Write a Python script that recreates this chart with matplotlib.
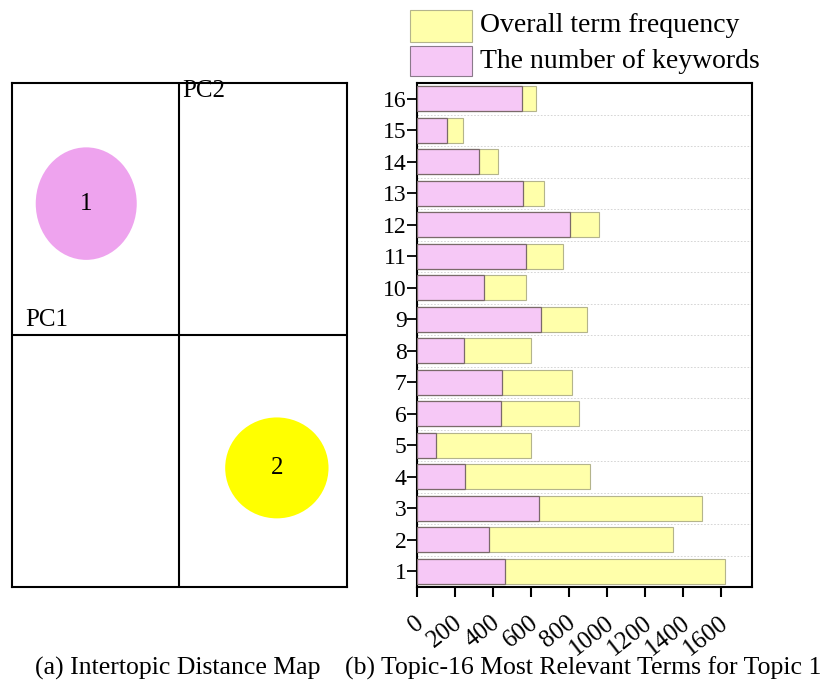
import matplotlib
matplotlib.use("Agg")
import matplotlib.pyplot as plt
import matplotlib.transforms as mtransforms
from matplotlib.patches import Ellipse, Rectangle
import numpy as np

plt.rcParams['font.family'] = ['Liberation Serif', 'DejaVu Serif']

# ---- data ----
topics = [1, 2]
topic_x = [-0.555, 0.583]
topic_y = [0.522, -0.528]
topic_w = [0.603, 0.617]
topic_h = [0.447, 0.401]
topic_colors = ['#EEA3EE', '#FFFF00']

terms = list(range(1, 17))
overall_freq = [1618, 1345, 1497, 910, 598, 850, 813, 601, 894, 571, 768, 959, 666, 424, 244, 626]
keyword_count = [461, 377, 640, 252, 98, 440, 449, 245, 652, 350, 571, 803, 559, 324, 156, 552]
xticks = [0, 200, 400, 600, 800, 1000, 1200, 1400, 1600]
series_labels = ['Overall term frequency', 'The number of keywords']

W, H = 826, 682
fig = plt.figure(figsize=(W / 100, H / 100), dpi=100)
FS = 18
YEL, YEL_E = '#FFFFAA', '#b4b48c'
PNK, PNK_E = '#F6C8F6', '#7a6a6a'

# ---- (a) intertopic distance map ----
ax1 = fig.add_axes([11.7 / W, 1 - 586.7 / H, (346.7 - 11.7) / W, (586.7 - 83.3) / H])
ax1.set_xlim(-1, 1)
ax1.set_ylim(-1, 1)
ax1.set_xticks([])
ax1.set_yticks([])
for s in ax1.spines.values():
    s.set_linewidth(1.5)
ax1.axhline(0, color='black', lw=1.5)
ax1.axvline(0, color='black', lw=1.5)
for t, x, y, w, h, c in zip(topics, topic_x, topic_y, topic_w, topic_h, topic_colors):
    ax1.add_patch(Ellipse((x, y), w, h, facecolor=c, edgecolor='none'))
    ax1.text(x, y, str(t), ha='center', va='center', fontsize=FS)
ax1.text(0.02, 0.97, 'PC2', ha='left', va='center', fontsize=FS)
ax1.text(-0.92, 0.06, 'PC1', ha='left', va='center', fontsize=FS)

# ---- (b) bar chart ----
ax2 = fig.add_axes([417 / W, 1 - 587 / H, (752 - 417) / W, (587 - 83) / H])
ax2.barh(terms, overall_freq, height=0.8, color=YEL, edgecolor=YEL_E, linewidth=0.8, zorder=2,
         label=series_labels[0])
ax2.barh(terms, keyword_count, height=0.8, color=PNK, edgecolor=PNK_E, linewidth=0.9, zorder=3,
         label=series_labels[1])
ax2.set_xlim(0, 1762)
ax2.set_ylim(0.5, 16.5)
ax2.set_yticks(terms)
ax2.set_yticklabels([str(t) for t in terms])
ax2.set_yticks(np.arange(1.5, 16.5, 1), minor=True)
ax2.grid(which='minor', axis='y', color='#cfcfcf', linestyle=(0, (2, 2)), linewidth=0.6, zorder=0)
ax2.tick_params(axis='y', which='minor', length=0)
ax2.set_xticks(xticks)
ax2.set_xticklabels([str(v) for v in xticks], rotation=38, ha='right', va='top')
ax2.tick_params(axis='y', which='major', direction='out', length=7, width=1.3, labelsize=17, pad=0.5)
ax2.tick_params(axis='x', which='major', direction='out', length=7, width=1.5, labelsize=18, pad=11)
shift = mtransforms.ScaledTranslation(11 / 100, 0, fig.dpi_scale_trans)
for lab in ax2.get_xticklabels():
    lab.set_transform(lab.get_transform() + shift)
for s in ax2.spines.values():
    s.set_linewidth(1.5)

# ---- legend (drawn in figure pixel coords) ----
LFS = 20
leg_rows = [(10, 42, YEL, YEL_E), (46, 76, PNK, '#8a7a8a')]
for (top, bot, fc, ec), lab in zip(leg_rows, series_labels):
    fig.add_artist(Rectangle((410 / W, 1 - bot / H), 62 / W, (bot - top) / H,
                             facecolor=fc, edgecolor=ec, linewidth=0.8, transform=fig.transFigure))
    fig.text(480 / W, 1 - (top + bot) / 2 / H, lab, ha='left', va='center', fontsize=LFS)

fig.text(177.5 / W, 1 - 668 / H, '(a) Intertopic Distance Map', ha='center', va='center', fontsize=18.5)
fig.text(583.5 / W, 1 - 668 / H, '(b) Topic-16 Most Relevant Terms for Topic 1', ha='center', va='center', fontsize=18.5)

fig.savefig('out.png', dpi=100)
